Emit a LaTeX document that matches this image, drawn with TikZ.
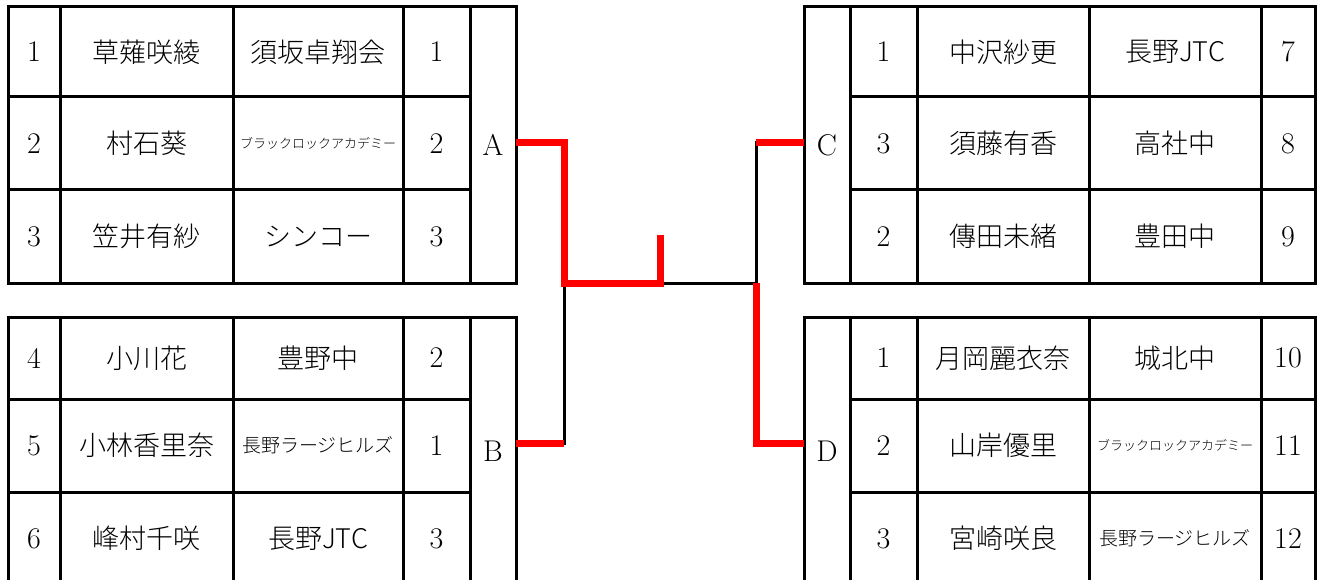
\documentclass[tikz,border=0pt]{standalone}
\usepackage{fontspec}
\newfontfamily\jp{Noto Sans CJK JP Light}
\usepackage{tikz}
\definecolor{BracketRed}{HTML}{FF0000}

\begin{document}
\begin{tikzpicture}[x=1pt,y=-1pt,
  cell/.style={draw,line width=3pt,inner sep=0pt,outer sep=0pt,anchor=north west,align=center},
  num/.style={cell,font=\fontsize{30}{32}\selectfont},
  jname/.style={cell,font=\jp\fontsize{27}{30}\selectfont},
  link/.style={line width=3pt},
  win/.style={line width=7pt,color=BracketRed,line join=miter}
]
\clip (0,0) rectangle (1317,580);
% left tables
\foreach \id/\y/\h/\no/\pl/\tm/\ts/\rk in {
  a1/7/90/1/草薙咲綾/須坂卓翔会/27/1,
  a2/97/93/2/村石葵/ブラックロックアカデミー/13/2,
  a3/190/93/3/笠井有紗/シンコー/27/3,
  b1/317/82/4/小川花/豊野中/27/2,
  b2/399/93/5/小林香里奈/長野ラージヒルズ/19/1,
  b3/492/93/6/峰村千咲/長野JTC/27/3}
{
  \node[num,minimum width=52,minimum height=\h] (\id-no) at (8,\y) {\no};
  \node[jname,minimum width=173,minimum height=\h] (\id-pl) at (60,\y) {\pl};
  \node[jname,minimum width=170,minimum height=\h] (\id-tm) at (233,\y) {\fontsize{\ts}{\ts}\selectfont\tm};
  \node[num,minimum width=67,minimum height=\h] (\id-rk) at (403,\y) {\rk};
}
\node[num,minimum width=46,minimum height=276] (A) at (470,7) {A};
\node[num,minimum width=46,minimum height=268] (B) at (470,317) {B};
% right tables
\foreach \id/\y/\h/\rk/\pl/\tm/\ts/\no in {
  c1/7/90/1/中沢紗更/長野JTC/27/7,
  c2/97/93/3/須藤有香/高社中/27/8,
  c3/190/93/2/傳田未緒/豊田中/27/9,
  d1/317/82/1/月岡麗衣奈/城北中/27/10,
  d2/399/93/2/山岸優里/ブラックロックアカデミー/13/11,
  d3/492/93/3/宮崎咲良/長野ラージヒルズ/19/12}
{
  \node[num,minimum width=67,minimum height=\h] (\id-rk) at (850,\y) {\rk};
  \node[jname,minimum width=172,minimum height=\h] (\id-pl) at (917,\y) {\pl};
  \node[jname,minimum width=172,minimum height=\h] (\id-tm) at (1089,\y) {\fontsize{\ts}{\ts}\selectfont\tm};
  \node[num,minimum width=54,minimum height=\h] (\id-no) at (1261,\y) {\no};
}
\node[num,minimum width=46,minimum height=276] (C) at (804,7) {C};
\node[num,minimum width=46,minimum height=268] (D) at (804,317) {D};
% bracket
\coordinate (ab) at (564,283);
\coordinate (fin) at (660,283);
\coordinate (finTop) at (660,235);
\coordinate (cd) at (756,283);
\draw[link] ([yshift=8pt]B.east) -| (ab) -- (cd) |- ([yshift=2pt]C.west);
\draw[win] ([yshift=2pt]A.east) -| (ab) -- (fin) -- (finTop);
\draw[win] ([yshift=8pt]B.east) -- ++(48,0);
\draw[win] ([yshift=2pt]C.west) -- ++(-48,0);
\draw[win] (cd) |- ([yshift=8pt]D.west);
\end{tikzpicture}
\end{document}
